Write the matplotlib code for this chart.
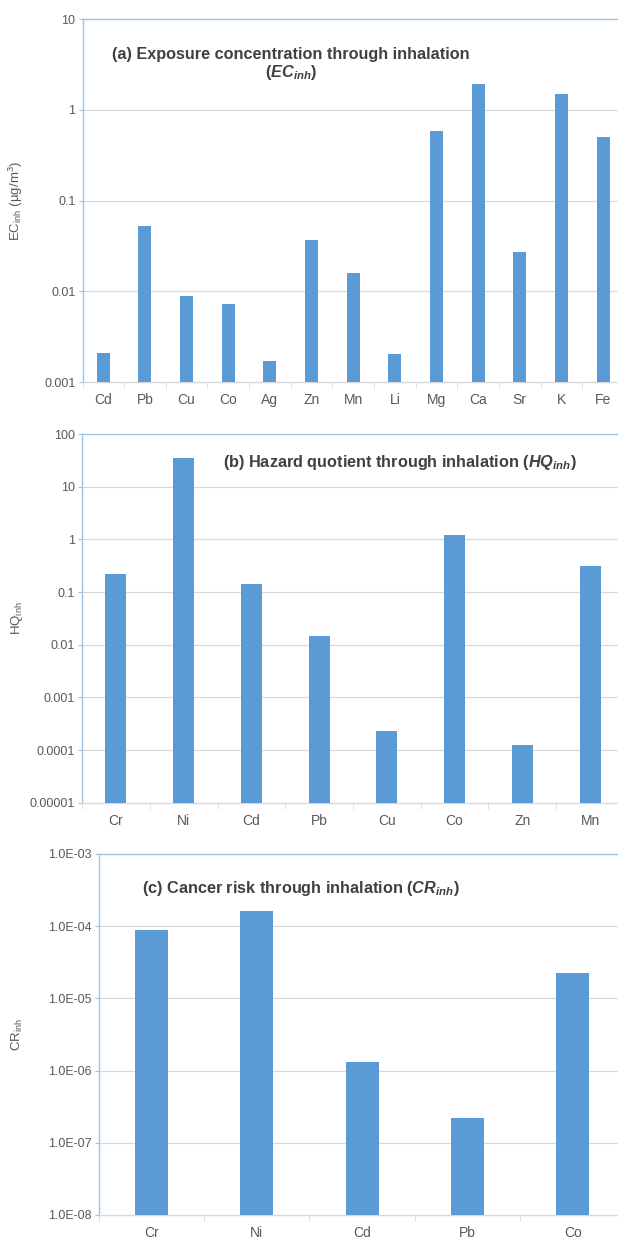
import matplotlib.pyplot as plt
import numpy as np

plt.rcParams['font.family'] = ['Liberation Sans', 'DejaVu Sans']
plt.rcParams['mathtext.fontset'] = 'custom'
plt.rcParams['mathtext.rm'] = 'Liberation Sans'
plt.rcParams['mathtext.it'] = 'Liberation Sans:italic'
plt.rcParams['mathtext.bf'] = 'Liberation Sans:bold'
plt.rcParams['mathtext.bfit'] = 'Liberation Sans:italic:bold'

# (a) exposure concentration
ec_elems = ['Cd', 'Pb', 'Cu', 'Co', 'Ag', 'Zn', 'Mn', 'Li', 'Mg', 'Ca', 'Sr', 'K', 'Fe']
ec_vals = [0.0021, 0.052, 0.0090, 0.0072, 0.00171, 0.037, 0.016, 0.00205,
           0.58, 1.92, 0.0275, 1.52, 0.50]
ec_ticks = [0.001, 0.01, 0.1, 1, 10]
ec_labels = ['0.001', '0.01', '0.1', '1', '10']

# (b) hazard quotient
hq_elems = ['Cr', 'Ni', 'Cd', 'Pb', 'Cu', 'Co', 'Zn', 'Mn']
hq_vals = [0.216, 35.5, 0.142, 0.0146, 0.00023, 1.21, 0.000124, 0.316]
hq_ticks = [1e-5, 1e-4, 1e-3, 1e-2, 0.1, 1, 10, 100]
hq_labels = ['0.00001', '0.0001', '0.001', '0.01', '0.1', '1', '10', '100']

# (c) cancer risk
cr_elems = ['Cr', 'Ni', 'Cd', 'Pb', 'Co']
cr_vals = [8.9e-5, 1.6e-4, 1.3e-6, 2.18e-7, 2.25e-5]
cr_ticks = [1e-8, 1e-7, 1e-6, 1e-5, 1e-4, 1e-3]
cr_labels = ['1.0E-08', '1.0E-07', '1.0E-06', '1.0E-05', '1.0E-04', '1.0E-03']

BAR = '#5B9BD5'
BORDER = '#9DC3E6'
GRID = '#D9D9D9'
TXT = '#595959'

fig = plt.figure(figsize=(6.18, 12.38), dpi=100)


def panel(rect, elems, vals, ticks, labels, ylabel):
    ax = fig.add_axes(rect)
    x = np.arange(len(elems))
    ax.bar(x, vals, width=0.313, color=BAR, zorder=3)
    ax.set_yscale('log')
    ax.set_ylim(ticks[0], ticks[-1])
    ax.set_xlim(-0.5, len(elems) - 0.5)
    ax.set_yticks(ticks)
    ax.set_yticklabels(labels)
    ax.yaxis.set_minor_locator(plt.NullLocator())
    ax.set_xticks(x)
    ax.set_xticklabels(elems)
    ax.set_xticks(np.arange(len(elems) + 1) - 0.5, minor=True)
    ax.tick_params(axis='x', which='major', length=0, pad=8, labelsize=10, labelcolor=TXT)
    ax.tick_params(axis='x', which='minor', length=4, color=GRID, direction='out')
    ax.tick_params(axis='y', length=3, color=BORDER, labelsize=9, labelcolor=TXT, pad=2)
    for t in ticks[1:-1]:
        ax.axhline(t, color=GRID, lw=0.9, zorder=1)
    ax.spines['left'].set_color(BORDER)
    ax.spines['top'].set_color(BORDER)
    ax.spines['bottom'].set_color(GRID)
    ax.spines['right'].set_visible(False)
    for s in ax.spines.values():
        s.set_linewidth(1.0)
    ax.set_ylabel(ylabel, fontsize=9.5, color=TXT)
    return ax


ax1 = panel([0.1335, 0.6914, 0.876, 0.293], ec_elems, ec_vals, ec_ticks, ec_labels,
            r'EC$_{\mathrm{inh}}$ (µg/m$^{3}$)')
ax1.yaxis.set_label_coords(-0.106, 0.5)
ax2 = panel([0.1327, 0.3516, 0.877, 0.2978], hq_elems, hq_vals, hq_ticks, hq_labels,
            r'HQ$_{\mathrm{inh}}$')
ax2.yaxis.set_label_coords(-0.106, 0.5)
ax3 = panel([0.1594, 0.0186, 0.8528, 0.2916], cr_elems, cr_vals, cr_ticks, cr_labels,
            r'CR$_{\mathrm{inh}}$')
ax3.yaxis.set_label_coords(-0.139, 0.5)

tkw = dict(fontsize=11.7, fontweight='bold', color='#404040', ha='center', va='center')
fig.text(291 / 618, 1 - 54 / 1238, '(a) Exposure concentration through inhalation', **tkw)
fig.text(291 / 618, 1 - 73 / 1238, r'($\mathbfit{EC}_{\mathbfit{inh}}$)', **tkw)
fig.text(400 / 618, 1 - 463 / 1238, r'(b) Hazard quotient through inhalation ($\mathbfit{HQ}_{\mathbfit{inh}}$)', **tkw)
fig.text(301 / 618, 1 - 888 / 1238, r'(c) Cancer risk through inhalation ($\mathbfit{CR}_{\mathbfit{inh}}$)', **tkw)

fig.savefig('out.png', dpi=100)
